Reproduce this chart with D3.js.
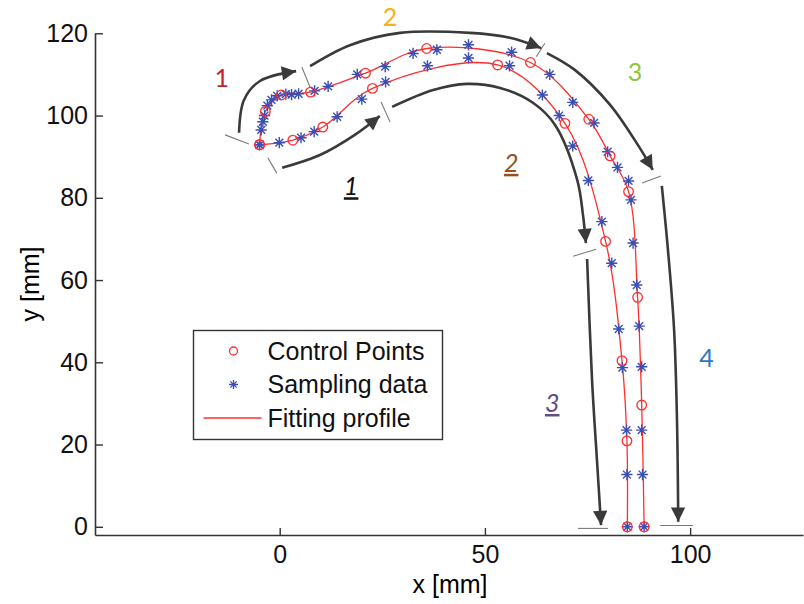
<!DOCTYPE html>
<html>
<head>
<meta charset="utf-8">
<script src="https://cdn.jsdelivr.net/npm/d3@7"></script>
<style>
  body { margin: 0; background: #fff; }
  svg { display: block; }
</style>
</head>
<body>
<script>
// control points (circles) of the two profiles, [x mm, y mm]
var outerControl = [[-4.9,92.9],[-3.5,101.0],[0.4,105.0],[7.5,105.7],[20.9,110.3],[35.8,116.3],
  [61.1,112.9],[75.3,99.1],[80.5,90.2],[85.0,81.5],[87.2,55.8],[88.2,29.6],[88.8,0]];
var innerControl = [[-4.9,92.9],[3.2,94.0],[10.5,97.2],[22.6,106.6],[53.1,112.3],[69.5,98.1],
  [79.4,69.4],[83.4,40.4],[84.6,20.9],[84.7,0]];

// sampling data (asterisks)
var outerSamples = [[-4.9,92.9],[-4.5,96.5],[-4.1,98.5],[-3.7,100.0],[-3.0,102.4],[-2.0,103.8],
  [-0.6,104.8],[1.5,105.2],[2.9,105.1],[4.6,105.3],[8.5,106.0],[11.8,107.1],[18.9,110.0],
  [25.7,111.9],[32.5,115.1],[38.3,116.0],[46.0,117.2],[56.5,115.4],[65.8,110.0],[71.4,103.2],
  [76.6,98.2],[79.9,91.2],[82.3,87.4],[85.0,84.1],[85.6,79.5],[86.1,69.0],[87.0,58.8],
  [87.6,48.8],[88.2,38.9],[88.2,23.5],[88.4,12.7],[88.8,0]];
var innerSamples = [[-4.9,92.9],[-0.1,93.4],[5.2,94.6],[8.4,96.1],[14.0,99.7],[20.0,104.0],
  [25.8,108.2],[36.0,112.1],[46.0,114.0],[56.0,112.1],[64.0,105.0],[68.1,100.0],[71.4,92.6],
  [75.2,84.2],[78.5,74.2],[80.9,64.1],[82.6,48.1],[83.5,38.7],[84.5,23.5],[84.6,12.7],[84.7,0]];

var xTicks = [0, 50, 100];
var yTicks = [0, 20, 40, 60, 80, 100, 120];
var legendLabels = ["Control Points", "Sampling data", "Fitting profile"];

// segment annotations (mm)
var arrows = [
  [[-9.9,95.8],[-8.7,103.8],[-4.8,108.4],[4.0,110.8]],
  [[7.4,112.0],[17.1,117.1],[29.3,120.1],[46.4,120.1],[56.1,118.9],[63.7,116.4]],
  [[65.1,115.2],[71.9,111.1],[80.5,102.6],[87.3,92.8],[90.9,86.8]],
  [[93.1,82.9],[94.6,67.3],[96.1,47.8],[96.8,25.9],[97.1,1.2]],
  [[0.6,87.3],[9.8,90.4],[18.3,95.3],[24.4,99.9]],
  [[27.4,102.1],[37.4,106.2],[45.6,107.7],[53.7,106.7],[61.7,103.1],[67.1,97.7],[72.5,84.3],[73.9,75.8],[74.6,69.0]],
  [[74.9,65.1],[76.1,35.7],[77.3,16.2],[78.3,0.4]]
];
var separators = [
  [[-13.3,95.3],[-7.5,93.1]], [[-2.9,89.7],[-0.7,86.0]], [[5.4,111.8],[7.4,106.9]],
  [[24.7,103.3],[26.9,98.4]], [[62.5,114.3],[64.6,117.6]], [[88.3,83.6],[92.9,85.3]],
  [[71.5,65.8],[77.1,67.5]], [[72.7,-0.4],[80.0,-0.4]], [[92.7,0.3],[100.7,0.3]]
];
var segLabels = [
  {t:"1", x:-14.1, y:109.1, c:"#c1272d", u:false},
  {t:"2", x:26.9, y:124.0, c:"#f5b21a", u:false},
  {t:"3", x:86.6, y:110.6, c:"#8dc63f", u:false},
  {t:"4", x:104.0, y:41.0, c:"#2a78bf", u:false},
  {t:"1", x:17.4, y:82.8, c:"#111111", u:true},
  {t:"2", x:56.4, y:88.5, c:"#97501c", u:true},
  {t:"3", x:66.4, y:30.1, c:"#5f4b8b", u:true}
];

var width = 804, height = 604;
var red = "#ff2e2e", blue = "#3a4fb5", ink = "#333";

var svg = d3.select("body").append("svg")
    .attr("width", width)
    .attr("height", height);

var x = d3.scaleLinear().domain([-45, 127.5]).range([95, 803]);
var y = d3.scaleLinear().domain([-2, 120]).range([535, 33.3]);

svg.append("defs").append("marker")
    .attr("id", "head")
    .attr("viewBox", "0 0 10 10")
    .attr("refX", 10).attr("refY", 5)
    .attr("markerWidth", 6.5).attr("markerHeight", 5.5)
    .attr("markerUnits", "strokeWidth")
    .attr("orient", "auto")
  .append("path")
    .attr("d", "M0,0L10,5L0,10Z")
    .attr("fill", "#3a3a3a");

// axes
var xAxis = svg.append("g")
    .attr("transform", "translate(0,535)")
    .call(d3.axisBottom(x).tickValues(xTicks).tickSizeInner(-7).tickSizeOuter(0).tickPadding(10));
var yAxis = svg.append("g")
    .attr("transform", "translate(95,0)")
    .call(d3.axisLeft(y).tickValues(yTicks).tickSizeInner(-8).tickSizeOuter(0).tickPadding(7));
[xAxis, yAxis].forEach(function(a) {
  a.select(".domain").attr("stroke", ink).attr("stroke-width", 1.6);
  a.selectAll(".tick line").attr("stroke", ink).attr("stroke-width", 1.4);
  a.selectAll(".tick text").attr("fill", "#111")
    .style("font-family", "'Liberation Sans', Arial, sans-serif").style("font-size", "25px");
});

svg.append("text")
    .attr("x", 450).attr("y", 593)
    .attr("text-anchor", "middle")
    .style("font-family", "'Liberation Sans', Arial, sans-serif").style("font-size", "25px")
    .text("x [mm]");
svg.append("text")
    .attr("transform", "translate(39,284) rotate(-90)")
    .attr("text-anchor", "middle")
    .style("font-family", "'Liberation Sans', Arial, sans-serif").style("font-size", "25px")
    .text("y [mm]");

// annotations
var aline = d3.line().x(function(d){ return x(d[0]); }).y(function(d){ return y(d[1]); });
svg.selectAll(".sep").data(separators).enter().append("path")
    .attr("class", "sep")
    .attr("d", aline)
    .attr("stroke", "#7a7a7a").attr("stroke-width", 1.1).attr("fill", "none");
svg.selectAll(".arrow").data(arrows).enter().append("path")
    .attr("class", "arrow")
    .attr("d", d3.line().x(function(d){ return x(d[0]); }).y(function(d){ return y(d[1]); }).curve(d3.curveCatmullRom))
    .attr("stroke", "#3a3a3a").attr("stroke-width", 2.6).attr("fill", "none")
    .attr("marker-end", "url(#head)");

svg.selectAll(".seg").data(segLabels).enter().append("text")
    .attr("class", "seg")
    .attr("x", function(d){ return x(d.x); })
    .attr("y", function(d){ return y(d.y); })
    .attr("dy", "0.36em")
    .attr("text-anchor", "middle")
    .attr("fill", function(d){ return d.c; })
    .style("font-family", "Lato, 'Open Sans', sans-serif")
    .style("font-size", "25px")
    .style("font-style", function(d){ return d.u ? "italic" : "normal"; })
    .style("text-decoration", function(d){ return d.u ? "underline" : "none"; })
    .text(function(d){ return d.t; });

// fitting profiles
var curve = d3.line().x(function(d){ return x(d[0]); }).y(function(d){ return y(d[1]); })
    .curve(d3.curveCatmullRom.alpha(0.5));
svg.selectAll(".profile").data([outerControl, innerControl]).enter().append("path")
    .attr("class", "profile")
    .attr("d", curve)
    .attr("fill", "none").attr("stroke", red).attr("stroke-width", 1.3);

function star(s) {
  var d = s * 0.7;
  return "M" + (-s) + ",0H" + s + "M0," + (-s) + "V" + s +
    "M" + (-d) + "," + (-d) + "L" + d + "," + d + "M" + (-d) + "," + d + "L" + d + "," + (-d);
}

svg.selectAll(".samp").data(outerSamples.concat(innerSamples)).enter().append("path")
    .attr("class", "samp")
    .attr("transform", function(d){ return "translate(" + x(d[0]) + "," + y(d[1]) + ")"; })
    .attr("d", star(5.6))
    .attr("stroke", blue).attr("stroke-width", 1.4).attr("fill", "none");

svg.selectAll(".ctrl").data(outerControl.concat(innerControl)).enter().append("circle")
    .attr("class", "ctrl")
    .attr("cx", function(d){ return x(d[0]); })
    .attr("cy", function(d){ return y(d[1]); })
    .attr("r", 4.8)
    .attr("stroke", red).attr("stroke-width", 1.3).attr("fill", "none");

// legend
var lg = svg.append("g").attr("transform", "translate(193.5,330.5)");
lg.append("rect").attr("width", 249).attr("height", 109)
    .attr("fill", "#fff").attr("stroke", ink).attr("stroke-width", 1.4);
var rows = lg.selectAll(".row").data(legendLabels).enter().append("g")
    .attr("transform", function(d, i){ return "translate(0," + (20.5 + i * 33.5) + ")"; });
rows.append("text")
    .attr("x", 74).attr("dy", "0.35em")
    .style("font-family", "'Liberation Sans', Arial, sans-serif").style("font-size", "25px")
    .attr("fill", "#111")
    .text(function(d){ return d; });
rows.filter(function(d, i){ return i === 0; }).append("circle")
    .attr("cx", 40).attr("r", 4).attr("fill", "none").attr("stroke", red).attr("stroke-width", 1.3);
rows.filter(function(d, i){ return i === 1; }).append("path")
    .attr("transform", "translate(40,0)").attr("d", star(4.5))
    .attr("stroke", blue).attr("stroke-width", 1.3).attr("fill", "none");
rows.filter(function(d, i){ return i === 2; }).append("line")
    .attr("x1", 10).attr("x2", 68).attr("stroke", red).attr("stroke-width", 1.3);
</script>
</body>
</html>
